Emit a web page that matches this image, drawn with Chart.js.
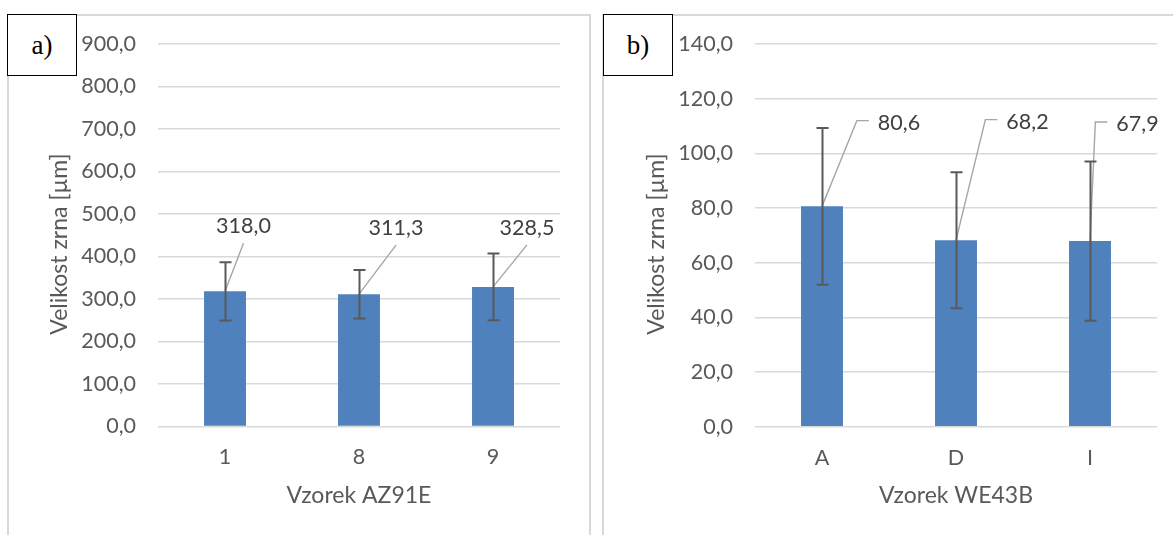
<!DOCTYPE html>
<html><head><meta charset="utf-8">
<script src="https://cdn.jsdelivr.net/npm/chart.js@4/dist/chart.umd.min.js"></script>
<style>
html,body{margin:0;padding:0;background:#fff;width:1173px;height:535px;overflow:hidden}
.panel{position:absolute;border:2px solid #d9d9d9;box-sizing:border-box}
.tag{position:absolute;border:1.5px solid #000;box-sizing:border-box;background:#fff;font-family:"Liberation Serif","Times New Roman",serif;font-size:27px;display:flex;align-items:center;justify-content:center;color:#000;padding-top:1px}
canvas{position:absolute;top:0}
</style></head><body>
<div class="panel" style="left:7px;top:14px;width:584px;height:600px"></div>
<div class="panel" style="left:602px;top:14px;width:700px;height:600px"></div>
<canvas id="cA" width="590" height="535" style="left:0"></canvas>
<canvas id="cB" width="578" height="535" style="left:595px"></canvas>
<div class="tag" style="left:7px;top:14px;width:70px;height:62px">a)</div>
<div class="tag" style="left:603px;top:14px;width:70px;height:62px">b)</div>
<script>
// ---- data ----
const categoriesA = ['1', '8', '9'];
const valuesA = [318.0, 311.3, 328.5];
const errorsA = [68.6, 57.0, 78.5];
const yMinA = 0, yMaxA = 900, yStepA = 100;
const xTitleA = 'Vzorek AZ91E';

const categoriesB = ['A', 'D', 'I'];
const valuesB = [80.6, 68.2, 67.9];
const errorsB = [28.7, 24.9, 29.1];
const yMinB = 0, yMaxB = 140, yStepB = 20;
const xTitleB = 'Vzorek WE43B';

const yTitle = 'Velikost zrna [µm]';

// ---- styles ----
const FONT = 'Lato, "Open Sans", sans-serif';
const fmt = v => v.toFixed(1).replace('.', ',');

const overlay = {
  id: 'overlay',
  afterDatasetsDraw(chart, args, opts) {
    const ctx = chart.ctx;
    const meta = chart.getDatasetMeta(0);
    const ys = chart.scales.y;
    const vals = chart.data.datasets[0].data;
    ctx.save();
    ctx.font = '21.5px ' + FONT;
    // leader lines
    meta.data.forEach((bar, i) => {
      const off = opts.labelOffsets[i];
      const lx = bar.x + off[0], ly = bar.y + off[1];
      const w = ctx.measureText(fmt(vals[i])).width;
      ctx.strokeStyle = '#a6a6a6';
      ctx.lineWidth = 1.4;
      ctx.beginPath();
      ctx.moveTo(bar.x, bar.y);
      if (opts.elbow) {
        const ky = ly - 2;
        ctx.lineTo(lx - w / 2 - 21, ky);
        ctx.lineTo(lx - w / 2 - 9, ky);
      } else {
        ctx.lineTo(lx, ly + 17);
      }
      ctx.stroke();
    });
    // error bars
    ctx.strokeStyle = '#595959';
    ctx.lineWidth = 2;
    meta.data.forEach((bar, i) => {
      const e = opts.errors[i];
      const yt = ys.getPixelForValue(vals[i] + e);
      const yb = ys.getPixelForValue(vals[i] - e);
      const x = Math.round(bar.x) + 0.5;
      ctx.beginPath();
      ctx.moveTo(x, yt); ctx.lineTo(x, yb);
      ctx.moveTo(x - 6, yt); ctx.lineTo(x + 6, yt);
      ctx.moveTo(x - 6, yb); ctx.lineTo(x + 6, yb);
      ctx.stroke();
    });
    // data labels
    ctx.fillStyle = '#404040';
    ctx.textAlign = 'center';
    ctx.textBaseline = 'middle';
    meta.data.forEach((bar, i) => {
      const off = opts.labelOffsets[i];
      ctx.fillText(fmt(vals[i]), bar.x + off[0], bar.y + off[1]);
    });
    ctx.restore();
  },
  afterDraw(chart, args, opts) {
    const ctx = chart.ctx;
    ctx.save();
    ctx.font = '23px ' + FONT;
    ctx.fillStyle = '#595959';
    ctx.textAlign = 'center';
    ctx.textBaseline = 'middle';
    ctx.translate(opts.titlePos[0], opts.titlePos[1]);
    ctx.rotate(-Math.PI / 2);
    ctx.fillText(yTitle, 0, 0);
    ctx.restore();
  }
};

function makeChart(id, cats, vals, errs, ymin, ymax, ystep, xTitle, o) {
  return new Chart(document.getElementById(id), {
    type: 'bar',
    data: {
      labels: cats,
      datasets: [{
        data: vals,
        backgroundColor: '#4f81bd',
        borderWidth: 0,
        categoryPercentage: 1,
        barPercentage: 0.313
      }]
    },
    options: {
      responsive: false,
      animation: false,
      events: [],
      layout: { padding: { left: 0, top: o.top, right: o.right, bottom: 0 } },
      plugins: {
        legend: { display: false },
        tooltip: { enabled: false },
        overlay: { errors: errs, labelOffsets: o.labelOffsets, elbow: o.elbow, titlePos: o.titlePos }
      },
      scales: {
        x: {
          grid: { display: false, drawTicks: false },
          border: { display: false },
          ticks: { color: '#595959', font: { family: FONT, size: 21.5 }, padding: 18 },
          title: { display: true, text: xTitle, color: '#595959', font: { family: FONT, size: 23 }, padding: { top: 0, bottom: 26 } },
          afterFit: s => { s.height = o.xHeight; }
        },
        y: {
          min: ymin, max: ymax,
          grid: { color: '#d9d9d9', lineWidth: 1.5, drawTicks: false },
          border: { display: false },
          ticks: { stepSize: ystep, color: '#595959', font: { family: FONT, size: 21.5 }, padding: 22, callback: v => fmt(v) },
          afterFit: s => { s.width = o.yWidth; }
        }
      }
    },
    plugins: [overlay]
  });
}

function draw() {
  makeChart('cA', categoriesA, valuesA, errorsA, yMinA, yMaxA, yStepA, xTitleA, {
    top: 44, right: 30, xHeight: 108.5, yWidth: 158,
    labelOffsets: [[18.5, -65], [37, -66], [34, -59]],
    elbow: false, titlePos: [60, 244]
  });
  makeChart('cB', categoriesB, valuesB, errorsB, yMinB, yMaxB, yStepB, xTitleB, {
    top: 44, right: 16, xHeight: 108.3, yWidth: 160,
    labelOffsets: [[77, -83.7], [71.5, -118.6], [47.5, -117.1]],
    elbow: true, titlePos: [62, 244]
  });
}
if (document.fonts && document.fonts.load) {
  document.fonts.load('21px Lato').then(draw, draw);
} else { draw(); }
</script>
</body></html>
